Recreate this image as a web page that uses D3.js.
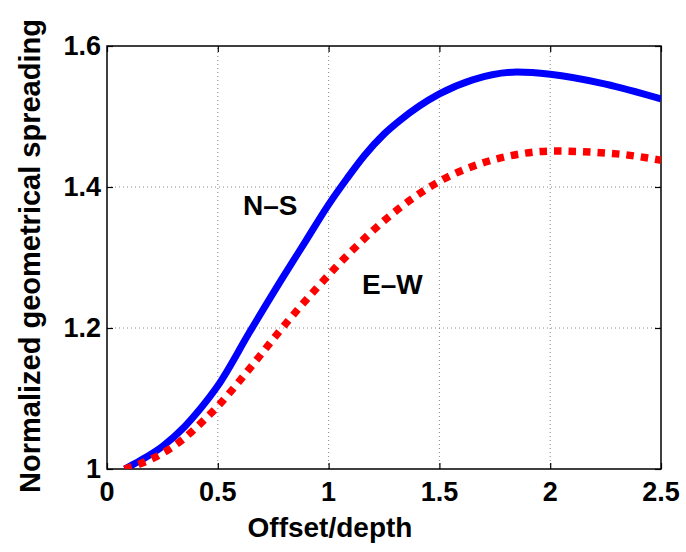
<!DOCTYPE html>
<html><head><meta charset="utf-8">
<script src="https://cdn.jsdelivr.net/npm/d3@7/dist/d3.min.js"></script>
<style>body{margin:0;background:#fff}svg{display:block}text{font-family:"Liberation Sans",Arial,Helvetica,sans-serif;font-weight:bold}</style>
</head><body><svg id="c" width="686" height="552"></svg>
<script>
const nsX = [0.08,0.15,0.25,0.35,0.42,0.5,0.645,0.79,0.9,1.0,1.083,1.16,1.25,1.32,1.5,1.65,1.85,2.0,2.25,2.5];
const nsY = [1.0,1.012,1.032,1.06,1.085,1.118,1.195,1.27,1.325,1.375,1.412,1.444,1.475,1.494,1.532,1.552,1.563,1.560,1.546,1.525];
const ewX = [0.08,0.22,0.33,0.43,0.5,0.65,0.78,0.95,1.1,1.28,1.5,1.76,2.02,2.3,2.5];
const ewY = [1.0,1.017,1.039,1.067,1.089,1.145,1.196,1.258,1.308,1.36,1.408,1.440,1.451,1.447,1.438];
const xTicks = [0,0.5,1,1.5,2,2.5];
const xTickLabels = ["0","0.5","1","1.5","2","2.5"];
const yTicks = [1,1.2,1.4,1.6];
const yTickLabels = ["1","1.2","1.4","1.6"];
const xLabel = "Offset/depth";
const yLabel = "Normalized geometrical spreading";

const m = {l:107, t:46, r:25, b:83};
const W = 686, H = 552;
const svg = d3.select("#c");
const x = d3.scaleLinear().domain([0,2.5]).range([m.l, W-m.r]);
const y = d3.scaleLinear().domain([1,1.6]).range([H-m.b, m.t]);

// grid
const g = svg.append("g");
g.selectAll("line.gx").data(xTicks.slice(1,-1)).join("line")
  .attr("x1",d=>x(d)).attr("x2",d=>x(d)).attr("y1",y(1)).attr("y2",y(1.6))
  .attr("stroke","#888").attr("stroke-width",1).attr("stroke-dasharray","1,3");
g.selectAll("line.gy").data(yTicks.slice(1,-1)).join("line")
  .attr("y1",d=>y(d)).attr("y2",d=>y(d)).attr("x1",x(0)).attr("x2",x(2.5))
  .attr("stroke","#888").attr("stroke-width",1).attr("stroke-dasharray","1,3");

// axes with inward ticks on all sides
const ax = svg.append("g");
ax.append("g").attr("transform",`translate(0,${y(1)})`)
  .call(d3.axisBottom(x).tickValues(xTicks).tickSize(-6).tickFormat(""))
  .call(s=>s.select(".domain").remove());
ax.append("g").attr("transform",`translate(0,${y(1.6)})`)
  .call(d3.axisTop(x).tickValues(xTicks).tickSize(-6).tickFormat(""))
  .call(s=>s.select(".domain").remove());
ax.append("g").attr("transform",`translate(${x(0)},0)`)
  .call(d3.axisLeft(y).tickValues(yTicks).tickSize(-6).tickFormat(""))
  .call(s=>s.select(".domain").remove());
ax.append("g").attr("transform",`translate(${x(2.5)},0)`)
  .call(d3.axisRight(y).tickValues(yTicks).tickSize(-6).tickFormat(""))
  .call(s=>s.select(".domain").remove());
ax.selectAll("line").attr("stroke","#000").attr("stroke-width",1.2);
svg.append("rect").attr("x",x(0)).attr("y",y(1.6)).attr("width",x(2.5)-x(0)).attr("height",y(1)-y(1.6))
  .attr("fill","none").attr("stroke","#000").attr("stroke-width",1.5);

// tick labels
svg.selectAll("text.xt").data(xTicks).join("text")
  .attr("x",d=>x(d)).attr("y",y(1)+32).attr("text-anchor","middle")
  .attr("font-size",27).text((d,i)=>xTickLabels[i]);
svg.selectAll("text.yt").data(yTicks).join("text")
  .attr("x",x(0)-6).attr("y",d=>y(d)+9).attr("text-anchor","end")
  .attr("font-size",27).text((d,i)=>yTickLabels[i]);

// axis labels
svg.append("text").attr("x",330).attr("y",537).attr("text-anchor","middle")
  .attr("font-size",28).text(xLabel);
svg.append("text").attr("transform","translate(40,256) rotate(-90)").attr("text-anchor","middle")
  .attr("font-size",29).text(yLabel);

// lines
svg.append("clipPath").attr("id","cp").append("rect")
  .attr("x",x(0)).attr("y",y(1.6)).attr("width",x(2.5)-x(0)).attr("height",y(1)-y(1.6));
const line = d3.line().x(d=>x(d[0])).y(d=>y(d[1])).curve(d3.curveMonotoneX);
svg.append("path").datum(nsX.map((v,i)=>[v,nsY[i]])).attr("d",line)
  .attr("fill","none").attr("stroke","#0000ff").attr("stroke-width",7).attr("clip-path","url(#cp)");
svg.append("path").datum(ewX.map((v,i)=>[v,ewY[i]])).attr("d",line)
  .attr("fill","none").attr("stroke","#ff0000").attr("stroke-width",7.5)
  .attr("stroke-dasharray","7.5,7").attr("clip-path","url(#cp)");

// curve labels
svg.append("text").attr("x",243).attr("y",215).attr("font-size",28).text("N–S");
svg.append("text").attr("x",362).attr("y",294).attr("font-size",28).text("E–W");
</script></body></html>
